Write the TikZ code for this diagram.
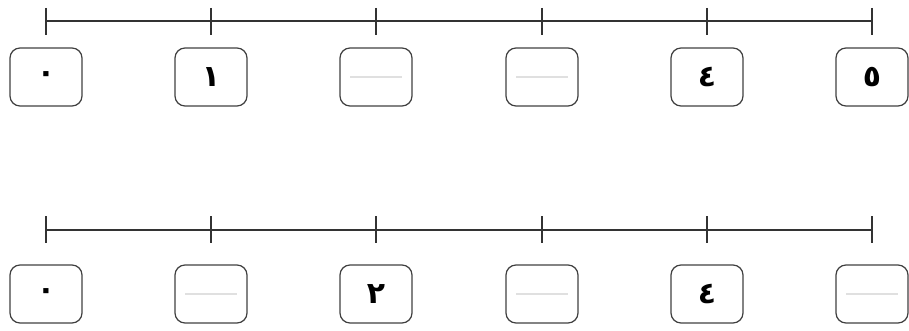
\documentclass[tikz,border=0pt]{standalone}
\usepackage{fontspec}
\newfontfamily\arabicfont[Script=Arabic]{DejaVu Sans}
\TeXXeTstate=1

\begin{document}
\begin{tikzpicture}[
  x=0.02cm, y=-0.02cm,
  axis/.style={line width=1.4pt, black!80},
  numbox/.style={draw=black!75, line width=0.7pt, rounded corners=0.2cm,
    minimum width=1.44cm, minimum height=1.16cm, inner sep=0pt,
    font=\arabicfont\bfseries\fontsize{17}{19}\selectfont},
  blank/.style={numbox, path picture={
    \draw[black!12, line width=0.6pt]
      ([xshift=0.2cm]path picture bounding box.west) --
      ([xshift=-0.2cm]path picture bounding box.east);}},
]
  \useasboundingbox (0,0) rectangle (909,331);

  % top number line
  \foreach \i/\x/\lab/\kind in {0/46/٠/numbox, 1/211/١/numbox, 2/376//blank,
      3/542//blank, 4/707/٤/numbox, 5/872/٥/numbox} {
    \coordinate (ta\i) at (\x, 21);
    \draw[axis] (\x, 8) -- (\x, 35);
    \node[\kind] (ba\i) at (\x, 77) {\beginR\lab\endR};
  }
  \draw[axis] (ta0) -- (ta5);

  % bottom number line
  \foreach \i/\x/\lab/\kind in {0/46/٠/numbox, 1/211//blank, 2/376/٢/numbox,
      3/542//blank, 4/707/٤/numbox, 5/872//blank} {
    \coordinate (tb\i) at (\x, 230);
    \draw[axis] (\x, 216) -- (\x, 243);
    \node[\kind] (bb\i) at (\x, 294) {\beginR\lab\endR};
  }
  \draw[axis] (tb0) -- (tb5);
\end{tikzpicture}
\end{document}
